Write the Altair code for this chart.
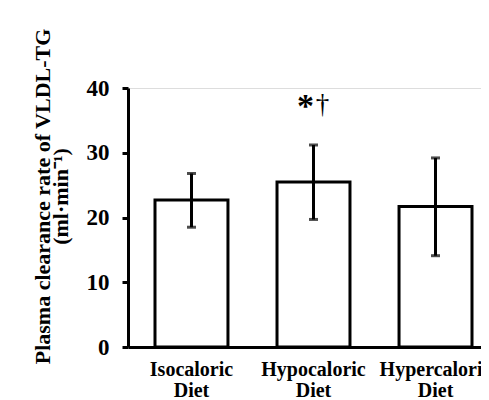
import altair as alt
import pandas as pd

categories = ["Isocaloric Diet", "Hypocaloric Diet", "Hypercaloric Diet"]
means = [22.7, 25.5, 21.7]
err_low = [18.5, 19.7, 14.1]
err_high = [26.8, 31.2, 29.2]
annot_cat = ["Hypocaloric Diet"]
annot_y = [37.7]

df = pd.DataFrame({"cat": categories, "mean": means, "lo": err_low, "hi": err_high})
ann = pd.DataFrame({"cat": annot_cat, "y": annot_y})

FONT = "Liberation Serif"

xscale = alt.Scale(domain=categories, paddingInner=0.402, paddingOuter=0.1475, align=0.75)
yscale = alt.Scale(domain=[0, 40])

x = alt.X("cat:N", scale=xscale, sort=categories,
          axis=alt.Axis(title=None, labelAngle=0, ticks=False, labelPadding=12,
                        labelExpr="split(datum.label, ' ')", labelLineHeight=21,
                        labelFont=FONT, labelFontSize=20, labelFontWeight="bold",
                        labelColor="black", domainColor="black", domainWidth=3))

bars = alt.Chart(df).mark_bar(fill="white", stroke="black", strokeWidth=3).encode(
    x=x,
    y=alt.Y("mean:Q", scale=yscale,
            axis=alt.Axis(values=[0, 10, 20, 30, 40], grid=False,
                          title=["Plasma clearance rate of VLDL-TG", "(ml·min⁻¹)"],
                          titleFont=FONT, titleFontSize=22, titleFontWeight="bold",
                          titleColor="black", titleLineHeight=18,
                          titleAnchor="middle", titleX=-74, titleY=108, titleAngle=-90,
                          titleBaseline="bottom", titleAlign="center",
                          labelFont=FONT, labelFontSize=23, labelFontWeight="bold",
                          labelColor="black", labelPadding=13,
                          tickSize=6, tickWidth=3, tickColor="black",
                          domainColor="black", domainWidth=3)),
)

rules = alt.Chart(df).mark_rule(color="black", strokeWidth=3).encode(
    x=alt.X("cat:N", scale=xscale, sort=categories),
    y=alt.Y("lo:Q", scale=yscale),
    y2="hi:Q",
)
caps_hi = alt.Chart(df).mark_tick(color="black", thickness=3, size=9).encode(
    x=alt.X("cat:N", scale=xscale, sort=categories),
    y=alt.Y("hi:Q", scale=yscale),
)
caps_lo = alt.Chart(df).mark_tick(color="black", thickness=3, size=9).encode(
    x=alt.X("cat:N", scale=xscale, sort=categories),
    y=alt.Y("lo:Q", scale=yscale),
)
star = alt.Chart(ann).mark_text(text="*", font=FONT, fontSize=34, fontWeight="bold",
                                color="black", dx=-8, dy=4).encode(
    x=alt.X("cat:N", scale=xscale, sort=categories),
    y=alt.Y("y:Q", scale=yscale),
)
dagger = alt.Chart(ann).mark_text(text="†", font=FONT, fontSize=27,
                                  color="black", dx=9, dy=2).encode(
    x=alt.X("cat:N", scale=xscale, sort=categories),
    y=alt.Y("y:Q", scale=yscale),
)

chart = alt.layer(bars, rules, caps_hi, caps_lo, star, dagger).properties(
    width=353, height=259,
    autosize=alt.AutoSizeParams(type="none"),
    padding={"left": 120, "top": 80, "right": 0, "bottom": 53},
).configure_view(stroke=None).configure(background="white")

chart.save("out.html", embed_options={"renderer": "svg", "actions": False})
